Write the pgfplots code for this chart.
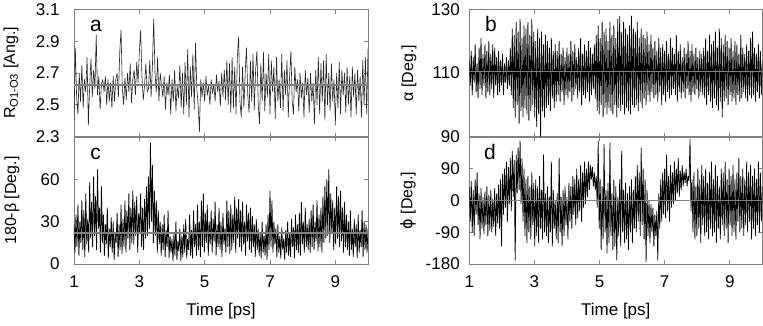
\documentclass[border=0pt]{standalone}
\usepackage{fontspec}
\setmainfont{Liberation Sans}
\newfontfamily\dejavu{DejaVu Sans}
\usepackage{pgfplots}
\usepackage{pgfplotstable}
\pgfplotsset{compat=1.18}

\definecolor{framegray}{RGB}{128,128,128}

% panel a: R(O1-O3)
\pgfplotstableread{
t r
1.00 2.40
1.04 2.86
1.08 2.55
1.12 2.44
1.16 2.70
1.20 2.52
1.24 2.75
1.28 2.48
1.32 2.66
1.36 2.58
1.40 2.80
1.44 2.37
1.48 2.62
1.52 2.79
1.56 2.55
1.60 2.72
1.64 2.60
1.68 2.94
1.72 2.56
1.76 2.68
1.80 2.47
1.84 2.63
1.88 2.66
1.92 2.58
1.96 2.68
2.00 2.50
2.04 2.66
2.08 2.52
2.12 2.64
2.16 2.48
2.20 2.68
2.24 2.52
2.28 2.66
2.32 2.70
2.36 2.55
2.40 2.83
2.44 2.97
2.48 2.60
2.52 2.50
2.56 2.67
2.60 2.53
2.64 2.70
2.68 2.58
2.72 2.76
2.76 2.51
2.80 2.66
2.84 2.72
2.88 2.56
2.92 2.77
2.96 2.64
3.00 2.83
3.04 2.97
3.08 2.68
3.12 2.53
3.16 2.62
3.20 2.76
3.24 2.58
3.28 2.60
3.32 2.78
3.36 2.55
3.40 2.74
3.44 3.04
3.48 2.70
3.52 2.58
3.56 2.80
3.60 2.52
3.64 2.70
3.68 2.62
3.72 2.55
3.76 2.68
3.80 2.47
3.84 2.64
3.88 2.56
3.92 2.69
3.96 2.44
4.00 2.66
4.04 2.52
4.08 2.72
4.12 2.46
4.16 2.62
4.20 2.54
4.24 2.75
4.28 2.48
4.32 2.70
4.36 2.44
4.40 2.77
4.44 2.50
4.48 2.85
4.52 2.42
4.56 2.74
4.60 2.55
4.64 2.82
4.68 2.47
4.72 2.89
4.76 2.60
4.80 2.50
4.84 2.33
4.88 2.66
4.92 2.55
4.96 2.64
5.00 2.52
5.04 2.68
5.08 2.56
5.12 2.62
5.16 2.50
5.20 2.66
5.24 2.57
5.28 2.63
5.32 2.52
5.36 2.69
5.40 2.58
5.44 2.65
5.48 2.49
5.52 2.70
5.56 2.55
5.60 2.72
5.64 2.53
5.68 2.78
5.72 2.50
5.76 2.76
5.80 2.45
5.84 2.80
5.88 2.48
5.92 2.74
5.96 2.44
6.00 2.80
6.04 2.93
6.08 2.52
6.12 2.42
6.16 2.74
6.20 2.48
6.24 2.70
6.28 2.86
6.32 2.56
6.36 2.45
6.40 2.78
6.44 2.52
6.48 2.82
6.52 2.47
6.56 2.72
6.60 2.84
6.64 2.50
6.68 2.38
6.72 2.76
6.76 2.52
6.80 2.83
6.84 2.46
6.88 2.70
6.92 2.55
6.96 2.82
7.00 2.44
7.04 2.78
7.08 2.58
7.12 2.74
7.16 2.41
7.20 2.80
7.24 2.52
7.28 2.66
7.32 2.48
7.36 2.82
7.40 2.46
7.44 2.72
7.48 2.56
7.52 2.78
7.56 2.42
7.60 2.68
7.64 2.84
7.68 2.52
7.72 2.44
7.76 2.74
7.80 2.58
7.84 2.66
7.88 2.46
7.92 2.70
7.96 2.54
8.00 2.64
8.04 2.42
8.08 2.72
8.12 2.56
8.16 2.67
8.20 2.45
8.24 2.70
8.28 2.52
8.32 2.64
8.36 2.38
8.40 2.72
8.44 2.50
8.48 2.80
8.52 2.44
8.56 2.76
8.60 2.52
8.64 2.78
8.68 2.40
8.72 2.82
8.76 2.50
8.80 2.70
8.84 2.46
8.88 2.76
8.92 2.52
8.96 2.66
9.00 2.37
9.04 2.70
9.08 2.48
9.12 2.77
9.16 2.44
9.20 2.72
9.24 2.56
9.28 2.70
9.32 2.45
9.36 2.74
9.40 2.50
9.44 2.68
9.48 2.42
9.52 2.74
9.56 2.55
9.60 2.70
9.64 2.44
9.68 2.72
9.72 2.52
9.76 2.68
9.80 2.42
9.84 2.78
9.88 2.50
9.92 2.80
9.96 2.44
10.00 2.85
}\tabR

% panels b, c, d: alpha, 180-beta, phi
\pgfplotstableread{
t alpha beta phi
1.00 114 28 40
1.03 106 8 -60
1.06 117 35 55
1.09 103 12 -90
1.12 115 42 30
1.15 107 6 -100
1.18 119 30 60
1.21 104 15 -40
1.24 113 45 80
1.27 102 10 -70
1.30 118 38 20
1.33 105 5 -110
1.36 121 50 35
1.39 103 14 -80
1.42 116 32 10
1.45 106 8 -95
1.48 119 58 25
1.51 102 18 -70
1.54 117 44 40
1.57 104 12 -100
1.60 120 62 15
1.63 103 20 -85
1.66 116 48 30
1.69 105 10 -90
1.72 119 67 5
1.75 102 25 -75
1.78 118 40 35
1.81 106 8 -100
1.84 115 55 20
1.87 103 15 -65
1.90 117 35 45
1.93 104 6 -80
1.96 114 28 60
1.99 106 14 -130
2.02 116 40 75
2.05 103 4 -40
2.08 113 25 90
2.11 107 12 -20
2.14 115 33 110
2.17 105 8 -60
2.20 114 30 95
2.23 106 3 -10
2.26 118 22 120
2.29 103 15 -30
2.32 124 36 140
2.35 99 5 10
2.38 122 28 115
2.41 96 10 -170
2.44 126 42 130
2.47 100 7 20
2.50 123 32 150
2.53 94 12 30
2.56 127 45 170
2.59 98 8 -10
2.62 121 38 120
2.65 96 18 -60
2.68 125 50 90
2.71 99 10 -100
2.74 124 40 60
2.77 97 15 -120
2.80 126 52 70
2.83 95 14 -90
2.86 122 44 40
2.89 98 20 -110
2.92 127 48 80
2.95 100 8 -70
2.98 123 36 50
3.01 96 22 -130
3.04 120 50 60
3.07 93 12 -100
3.10 124 40 40
3.13 97 10 -120
3.16 121 46 70
3.19 90 18 -80
3.22 123 55 30
3.25 98 20 -110
3.28 119 62 130
3.31 96 25 -90
3.34 122 86 20
3.37 99 30 -100
3.40 120 70 40
3.43 100 15 -120
3.46 118 52 10
3.49 98 20 -90
3.52 121 45 110
3.55 102 8 -130
3.58 117 38 30
3.61 99 14 -80
3.64 119 30 0
3.67 101 6 -110
3.70 117 28 20
3.73 103 10 -120
3.76 120 35 120
3.79 101 5 -90
3.82 116 24 10
3.85 104 12 -130
3.88 118 38 30
3.91 100 4 -100
3.94 115 20 40
3.97 103 8 -70
4.00 118 18 10
4.03 102 2 -110
4.06 116 22 50
4.09 104 6 -60
4.12 120 30 40
4.15 101 3 -80
4.18 117 16 70
4.21 103 9 -40
4.24 119 25 60
4.27 105 2 -70
4.30 115 20 90
4.33 102 5 -50
4.36 118 28 60
4.39 104 8 -30
4.42 121 32 100
4.45 100 4 -60
4.48 116 18 80
4.51 103 10 -20
4.54 119 35 110
4.57 102 6 -10
4.60 117 24 90
4.63 104 4 10
4.66 120 38 110
4.69 101 12 30
4.72 118 28 100
4.75 103 6 60
4.78 116 42 95
4.81 105 10 40
4.84 119 30 80
4.87 102 5 30
4.90 122 45 70
4.93 98 12 -20
4.96 125 50 170
4.99 97 8 -80
5.02 121 36 60
5.05 100 15 -140
5.08 126 42 40
5.11 96 6 -110
5.14 123 30 160
5.17 99 14 -90
5.20 124 38 30
5.23 97 8 -150
5.26 120 32 50
5.29 99 16 -120
5.32 126 44 165
5.35 98 6 -100
5.38 122 28 20
5.41 97 12 -140
5.44 125 40 60
5.47 100 10 -130
5.50 121 30 40
5.53 96 5 -170
5.56 127 36 10
5.59 99 14 -100
5.62 128 25 60
5.65 98 8 -130
5.68 123 45 140
5.71 100 12 -90
5.74 126 38 30
5.77 97 7 -120
5.80 124 42 50
5.83 99 10 -110
5.86 122 35 20
5.89 98 15 -140
5.92 125 48 40
5.95 97 8 -90
5.98 128 40 60
6.01 100 18 -120
6.04 124 46 30
6.07 99 12 -80
6.10 123 38 70
6.13 100 9 -90
6.16 126 44 100
6.19 98 14 -60
6.22 121 30 80
6.25 101 6 -100
6.28 124 42 150
6.31 99 16 -70
6.34 122 36 90
6.37 102 10 -110
6.40 121 40 60
6.43 100 8 -175
6.46 123 34 30
6.49 103 12 -100
6.52 119 28 0
6.55 101 5 -120
6.58 122 32 -10
6.61 104 10 -90
6.64 118 25 -20
6.67 102 6 -130
6.70 120 22 -40
6.73 103 4 -100
6.76 117 30 -30
6.79 101 8 -170
6.82 121 20 20
6.85 104 6 -80
6.88 118 28 60
6.91 100 3 -60
6.94 119 35 80
6.97 103 10 -40
7.00 117 52 90
7.03 101 12 -50
7.06 120 45 130
7.09 104 8 -30
7.12 116 30 70
7.15 102 14 -60
7.18 121 25 100
7.21 103 5 -20
7.24 118 28 80
7.27 105 8 -10
7.30 116 20 110
7.33 103 4 0
7.36 122 26 90
7.39 101 10 20
7.42 117 18 120
7.45 104 3 10
7.48 119 24 85
7.51 102 8 30
7.54 115 30 100
7.57 104 6 40
7.60 118 22 80
7.63 102 5 50
7.66 116 32 90
7.69 105 12 40
7.72 120 26 70
7.75 103 4 55
7.78 117 35 175
7.81 101 10 -30
7.84 119 28 60
7.87 104 8 -90
7.90 116 36 80
7.93 103 6 -110
7.96 118 44 40
7.99 105 14 -100
8.02 115 30 90
8.05 102 8 -80
8.08 117 40 60
8.11 104 12 -120
8.14 116 28 100
8.17 103 10 -70
8.20 118 32 70
8.23 102 8 -100
8.26 121 38 90
8.29 100 12 -90
8.32 117 42 50
8.35 103 10 -110
8.38 122 30 80
8.41 101 16 -80
8.44 119 45 110
8.47 99 9 -100
8.50 120 35 60
8.53 102 12 -90
8.56 123 40 100
8.59 100 8 -120
8.62 118 48 70
8.65 98 15 -80
8.68 124 55 40
8.71 101 18 -110
8.74 121 60 90
8.77 96 20 -70
8.80 119 67 80
8.83 101 15 -100
8.86 122 50 110
8.89 102 22 -80
8.92 120 45 60
8.95 100 10 -120
8.98 118 40 90
9.01 103 14 -70
9.04 121 55 70
9.07 101 18 -100
9.10 117 48 100
9.13 102 12 -90
9.16 120 52 60
9.19 100 16 -110
9.22 119 40 80
9.25 103 8 -60
9.28 116 44 120
9.31 101 12 -90
9.34 122 35 70
9.37 102 10 -80
9.40 118 30 90
9.43 104 6 -100
9.46 116 38 60
9.49 102 10 -70
9.52 119 25 110
9.55 101 5 -90
9.58 117 32 80
9.61 103 12 -60
9.64 121 28 100
9.67 102 4 -110
9.70 123 35 70
9.73 103 8 -80
9.76 118 24 90
9.79 101 12 -100
9.82 116 38 60
9.85 104 5 -70
9.88 119 30 110
9.91 102 10 -90
9.94 117 28 80
9.97 103 8 -60
10.00 114 25 40
}\tabAng

\pgfplotsset{
  panel/.style={
    scale only axis, height=127pt,
    xmin=1, xmax=10, xtick={1,3,5,7,9},
    axis line style={framegray, line width=0.8pt},
    tick style={framegray, line width=0.8pt},
    major tick length=4pt,
    tick align=inside,
    /pgf/number format/assume math mode=true,
    tick label style={font=\fontsize{17}{19}\selectfont, black},
    label style={font=\fontsize{16}{18}\selectfont},
    xticklabel style={yshift=-8pt},
    xlabel style={at={(axis description cs:0.5,0)}, anchor=center, yshift=-47pt,
      font=\fontsize{17}{19}\selectfont},
  },
  dataline/.style={black, line width=0.75pt, no markers, line join=bevel},
  meanline/.style={framegray, line width=1.2pt, no markers},
}

\begin{document}
\begin{tikzpicture}
\useasboundingbox (0,0) rectangle (763pt,325pt);

% a
\begin{axis}[panel, width=294pt, at={(74pt,188.5pt)}, anchor=south west,
  ymin=2.3, ymax=3.1, ytick={2.3,2.5,2.7,2.9,3.1},
  yticklabels={2.3,2.5,2.7,2.9,3.1}, xticklabels={},
  yticklabel style={xshift=-11pt},
  ylabel={R\textsubscript{O1-O3} [Ang.]},
  ylabel style={at={(axis description cs:-0.214,0.5)}, anchor=center}]
  \addplot[dataline, line width=0.6pt, black!85] table[x=t, y=r] {\tabR};
  \addplot[meanline] coordinates {(1,2.625) (10,2.625)};
\end{axis}

% c
\begin{axis}[panel, width=294pt, at={(74pt,61pt)}, anchor=south west,
  ymin=0, ymax=90, ytick={0,30,60,90}, yticklabels={0,30,60,},
  xticklabels={1,3,5,7,9},
  yticklabel style={xshift=-11pt},
  xlabel={Time [ps]},
  ylabel={180-β [Deg.]},
  ylabel style={at={(axis description cs:-0.211,0.5)}, anchor=center}]
  \addplot[dataline] table[x=t, y=beta] {\tabAng};
  \addplot[meanline] coordinates {(1,22) (10,22)};
\end{axis}

% b
\begin{axis}[panel, width=293pt, at={(469.3pt,188.5pt)}, anchor=south west,
  ymin=90, ymax=130, ytick={90,110,130}, yticklabels={90,110,130},
  xticklabels={},
  yticklabel style={xshift=-6pt},
  ylabel={α [Deg.]},
  ylabel style={at={(axis description cs:-0.206,0.5)}, anchor=center}]
  \addplot[dataline] table[x=t, y=alpha] {\tabAng};
  \addplot[meanline] coordinates {(1,110.5) (10,110.5)};
\end{axis}

% d
\begin{axis}[panel, width=293pt, at={(469.3pt,61pt)}, anchor=south west,
  ymin=-180, ymax=180, ytick={-180,-90,0,90,180}, yticklabels={-180,-90,0,90,},
  xticklabels={1,3,5,7,9},
  yticklabel style={xshift=-6pt},
  xlabel={Time [ps]},
  ylabel={{\dejavu ϕ} [Deg.]},
  ylabel style={at={(axis description cs:-0.209,0.5)}, anchor=center}]
  \addplot[dataline] table[x=t, y=phi] {\tabAng};
  \addplot[meanline] coordinates {(1,0) (10,0)};
\end{axis}

\node[anchor=base, font=\fontsize{21}{24}\selectfont] at (96pt,294pt) {a};
\node[anchor=base, font=\fontsize{21}{24}\selectfont] at (491pt,294pt) {b};
\node[anchor=base, font=\fontsize{21}{24}\selectfont] at (95.5pt,166pt) {c};
\node[anchor=base, font=\fontsize{21}{24}\selectfont] at (490pt,166pt) {d};
\end{tikzpicture}
\end{document}
